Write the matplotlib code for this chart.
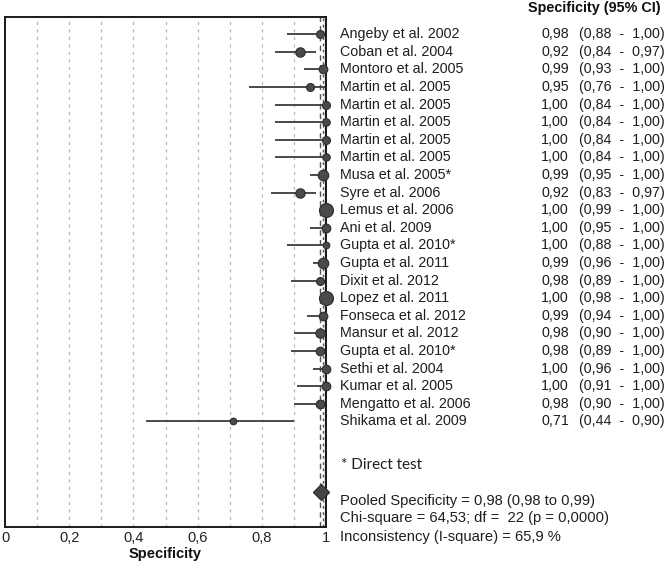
import matplotlib
matplotlib.use("Agg")
import matplotlib.pyplot as plt
import matplotlib.transforms as mtransforms
import numpy as np

# ---------------- data ----------------
studies = [
    "Angeby et al. 2002", "Coban et al. 2004", "Montoro et al. 2005", "Martin et al. 2005",
    "Martin et al. 2005", "Martin et al. 2005", "Martin et al. 2005", "Martin et al. 2005",
    "Musa et al. 2005*", "Syre et al. 2006", "Lemus et al. 2006", "Ani et al. 2009",
    "Gupta et al. 2010*", "Gupta et al. 2011", "Dixit et al. 2012", "Lopez et al. 2011",
    "Fonseca et al. 2012", "Mansur et al. 2012", "Gupta et al. 2010*", "Sethi et al. 2004",
    "Kumar et al. 2005", "Mengatto et al. 2006", "Shikama et al. 2009",
]
spec = [0.98, 0.92, 0.99, 0.95, 1.00, 1.00, 1.00, 1.00, 0.99, 0.92, 1.00, 1.00,
        1.00, 0.99, 0.98, 1.00, 0.99, 0.98, 0.98, 1.00, 1.00, 0.98, 0.71]
ci_low = [0.88, 0.84, 0.93, 0.76, 0.84, 0.84, 0.84, 0.84, 0.95, 0.83, 0.99, 0.95,
          0.88, 0.96, 0.89, 0.98, 0.94, 0.90, 0.89, 0.96, 0.91, 0.90, 0.44]
ci_high = [1.00, 0.97, 1.00, 1.00, 1.00, 1.00, 1.00, 1.00, 1.00, 0.97, 1.00, 1.00,
           1.00, 1.00, 1.00, 1.00, 1.00, 1.00, 1.00, 1.00, 1.00, 1.00, 0.90]
# relative study weights (%)
weights = [3.3, 4.6, 3.9, 3.3, 3.3, 2.9, 3.3, 2.9, 5.8, 4.6, 10.2, 3.9,
           2.3, 5.8, 3.3, 10.2, 3.9, 4.6, 3.9, 3.9, 3.9, 3.9, 2.3]

pooled = 0.984
pooled_low = 0.98
pooled_high = 0.99

header = "Specificity (95% CI)"
footnote = "* Direct test"
stats_lines = [
    "Pooled Specificity = 0,98 (0,98 to 0,99)",
    "Chi-square = 64,53; df =  22 (p = 0,0000)",
    "Inconsistency (I-square) = 65,9 %",
]
xtick_vals = [0, 0.2, 0.4, 0.6, 0.8, 1]
xtick_labels = ["0", "0,2", "0,4", "0,6", "0,8", "1"]
xlabel = "Specificity"


def fmt(v):
    return f"{v:.2f}".replace(".", ",")


# ---------------- figure ----------------
plt.rcParams["font.family"] = ["Liberation Sans", "DejaVu Sans"]
W, H = 666, 563
fig = plt.figure(figsize=(W / 100, H / 100), dpi=100)
ax = fig.add_axes([5 / W, 1 - 527 / H, (326 - 5) / W, (527 - 16.7) / H])

n = len(studies)
rows = np.arange(n)
ax.set_xlim(0, 1)
ax.set_ylim(28, -1)

# grid
for g in np.arange(0.1, 0.95, 0.1):
    ax.axvline(g, color="#b8b8b8", lw=0.9, ls=(0, (2.5, 3.5)), zorder=0)

# pooled reference lines
ax.axvline(pooled_low, color="#555555", lw=1.0, ls=(0, (4, 3)), zorder=1)
ax.axvline(pooled_high, color="#555555", lw=1.0, ls=(0, (2, 2.5)), zorder=1)
ax.axvline(1.0, color="#111111", lw=1.6, zorder=1)

ink = "#3c3c3c"
for i in range(n):
    ax.plot([ci_low[i], ci_high[i]], [rows[i], rows[i]], color=ink, lw=1.3,
            solid_capstyle="butt", zorder=2, clip_on=False)
    r_px = np.sqrt(weights[i] * 4.79)
    ax.plot(spec[i], rows[i], marker="o", ms=2 * r_px * 0.72, mfc="#4a4a4a",
            mec="#2e2e2e", mew=0.8, zorder=3, clip_on=False)

ax.plot(pooled, 26, marker="D", ms=8.0, mfc="#444444", mec="#333333",
        zorder=4, clip_on=False)

for s in ax.spines.values():
    s.set_color("#1a1a1a")
    s.set_linewidth(1.4)

ax.set_yticks([])
ax.set_xticks(xtick_vals)
ax.set_xticklabels(xtick_labels, fontsize=10.5, color="#222222")
ax.tick_params(axis="x", length=0, pad=3)
ax.set_xlabel(xlabel, fontsize=10.5, fontweight="bold", labelpad=1, color="#111111")

# right-hand text columns
tr = mtransforms.blended_transform_factory(fig.transFigure, ax.transData)
txt_col = "#1e1e1e"
fs = 10.3
for i in range(n):
    ax.text(340 / W, rows[i], studies[i], transform=tr, fontsize=fs, va="center",
            ha="left", color=txt_col, clip_on=False)
    ax.text(541 / W, rows[i], fmt(spec[i]), transform=tr, fontsize=fs, va="center",
            ha="left", color=txt_col, clip_on=False)
    ax.text(665 / W, rows[i], f"({fmt(ci_low[i])}  -  {fmt(ci_high[i])})", transform=tr,
            fontsize=fs, va="center", ha="right", color=txt_col, clip_on=False)

fig.text(528 / W, 1 - 8 / H, header, fontsize=10.4, fontweight="bold", va="center",
         ha="left", color="#111111")

ax.text(341 / W, 24.45, footnote, transform=tr, fontsize=11, va="center", ha="left",
        color=txt_col, family=["Lato", "DejaVu Sans"], clip_on=False)
stats_rows = [26.5, 27.5, 28.55]
for k, line in enumerate(stats_lines):
    ax.text(340 / W, stats_rows[k], line, transform=tr, fontsize=10.6, va="center",
            ha="left", color=txt_col, clip_on=False)

fig.savefig("out.png", dpi=100)
